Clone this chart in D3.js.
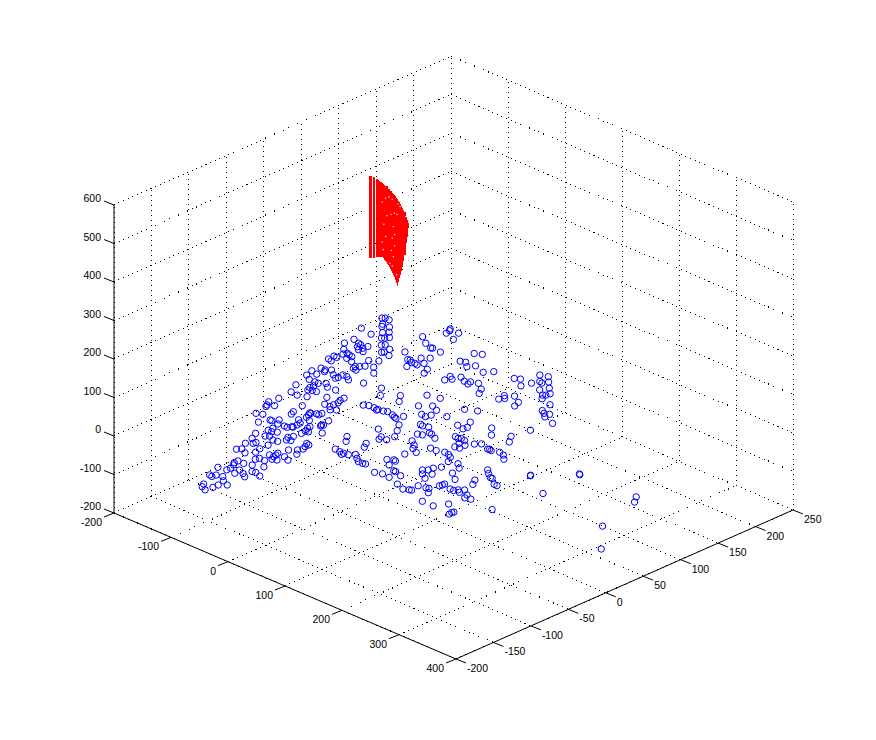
<!DOCTYPE html>
<html>
<head>
<meta charset="utf-8">
<style>html,body{margin:0;padding:0;background:#fff}svg{display:block}text{font-family:"Liberation Sans",Arial,sans-serif;font-size:10.5px;fill:#000}</style>
<script src="https://cdnjs.cloudflare.com/ajax/libs/d3/7.8.5/d3.min.js"></script>
</head>
<body>
<svg id="chart" width="876" height="740"></svg>
<script>
const xTicks = [-200,-100,0,100,200,300,400];
const yTicks = [-200,-150,-100,-50,0,50,100,150,200,250];
const zTicks = [-200,-100,0,100,200,300,400,500,600];

// Blue scatter (depth taken on the z = 0 level)
const pointZ = 0;
const pointX = [-196,-199,-189,-186,-182,-174,-169,-164,-159,-156,-153,-142,-145,-129,-130,-128,-117,-197,-176,-181,-182,-169,-164,-163,-154,-155,-156,-148,-170,-161,-159,-154,-160,-165,-164,-158,-149,-148,-138,-115,-125,-107,-95,-117,-121,-125,-117,-123,-152,-145,-139,-155,-144,-151,-140,-142,-128,-119,-119,-112,-104,-118,-84,-130,-124,-123,-123,-120,-115,-117,-108,-95,-109,-141,-131,-119,-107,-88,-58,-44,-26,-15,-71,-70,-67,-67,-67,-76,-54,-60,-129,-131,-126,-124,-118,-93,-89,-86,-72,-70,-69,-66,-64,-60,-60,-39,-111,-119,-99,-93,-85,-90,-78,-68,-60,-59,-60,-68,-63,-58,-57,-43,-44,-35,-39,-37,-35,-36,-20,-74,-74,-68,-62,-79,-72,-65,-61,-50,-43,-39,-42,-38,-33,-38,-44,-60,-61,-68,-60,-64,-49,-44,-41,-16,-13,-8,-8,-5,-8,0,-19,-17,-16,-23,-16,-25,-27,-12,-6,4,-6,-18,-29,-39,-39,-35,-31,-31,-17,-19,-9,-1,-5,0,11,-44,-36,-31,-30,-21,-12,0,-8,-8,-10,-23,-19,-4,
-40,-34,-25,-18,-18,-10,-5,6,12,16,19,32,42,52,22,40,43,51,9,18,40,46,24,33,40,40,47,53,62,70,77,81,106,116,129,91,104,98,102,120,123,136,150,165,96,172,-110,-92,-79,
-125,-111,-113,-116,-100,-92,-109,-95,-93,-78,-83,-75,-70,-55,-50,-78,-73,-83,-89,-45,-36,-42,-35,-25,-19,1,9,-18,-20,-13,-9,2,11,9,19,33,40,41,48,62,66,57,68,70,75,79,87,92,100,103,104,107,126,131,138,145,146,166,69,67,73,77,93,97,-3,15,11,24,36,31,39,41,59,74,58,90,85,98,97,121,135,155,165,160,50,55,63,67,73,75,80,91,106,112,115,122,123,132,126,133,138,144,107,117,76,86,92,103,128,136,143,150,160,162,166,177,186,195,163,173,155,150,149,144,152,161,163,177,192,202,210,220,223,237,242,211,218,251,252,299,172,175,183,187,195,191,192,192,207,213,222,216,222,234,238,246,207,226,236,257,256,257,286,292,294,389,398,418,463];
const pointY = [159,157,159,148,144,148,135,140,126,128,132,118,115,114,104,106,104,128,125,106,94,103,102,97,104,98,93,93,84,76,80,79,67,67,59,58,72,78,70,89,83,76,67,72,68,65,60,61,40,40,44,30,28,20,15,37,38,34,44,44,40,37,45,15,15,8,3,-2,0,20,15,16,1,-2,-16,-17,-13,-1,49,37,50,40,9,3,-2,-8,-13,-13,-14,-18,-34,-46,-52,-55,-48,-30,-45,-50,-36,-36,-40,-45,-33,-29,-33,-36,-69,-72,-84,-73,-67,-73,-74,-54,-58,-63,-69,-73,-73,-69,-48,-61,-57,-66,-67,-47,-46,-49,-59,-84,-90,-90,-87,-103,-113,-101,-98,-102,-101,-83,-88,-93,-91,-73,-113,-117,-120,-125,-136,-140,-140,-124,-132,-107,-85,-86,-91,-96,-101,-108,-119,-123,-127,-127,-139,-139,-143,-132,-130,-123,-120,-154,-157,-157,-162,-166,-173,-178,-178,-170,-173,-177,-164,-163,-166,-180,-197,-198,-193,-191,-197,-201,-207,-214,-223,-215,-220,-149,
11,14,14,12,14,15,17,15,13,12,20,4,-6,-17,-16,-26,-31,-27,-48,-56,-46,-53,-75,-76,-79,-76,-75,-70,-75,-79,-79,-78,-85,-82,-83,-57,-64,-53,-54,-70,-70,-73,-88,-92,-37,-89,120,110,99,
155,176,182,185,184,171,147,143,144,143,121,127,115,108,100,109,108,108,111,163,167,142,144,138,145,140,148,103,112,109,118,114,112,117,120,113,105,151,154,144,155,173,176,163,162,168,150,159,144,146,151,138,134,120,117,119,112,107,109,118,114,124,117,109,68,72,46,55,51,35,34,40,71,77,48,55,42,45,40,60,49,60,50,82,19,18,20,2,4,12,11,7,23,22,24,23,15,16,7,8,24,29,-11,-11,-12,-17,-23,-27,-8,-9,-12,-20,25,26,25,28,26,20,-17,-23,-33,-40,-46,-50,-56,-50,-61,-35,-43,-7,-12,-17,-17,-25,-25,-31,-39,13,12,-7,-77,-88,-75,-74,-81,-63,-60,-57,-61,-61,-60,-57,-53,-59,-65,-63,-98,-98,-85,-100,-96,-94,-65,47,46,49,40,-18,-54];

// Red surface: one vertical line per column
const surfaceX = [-186,-185.1,-184.2,-182.4,-181.5,-179.7,-178.9,-178,-177.1,-176.2,-175.3,-174.4,-173.5,-172.6,-171.7,-170.8,-169.9,-169,-168.1,-167.2,-166.4,-165.5,-164.6,-163.7,-162.8,-161.9,-161,-160.1,-159.2,-158.3,-157.4,-156.5,-155.6,-154.7,-153.9,-153,-152.1,-151.2];
const surfaceY = [131,131.7,132.3,133.6,134.3,135.6,136.2,136.9,137.6,138.2,138.9,139.5,140.2,140.8,141.5,142.2,142.8,143.5,144.1,144.8,145.4,146.1,146.7,147.4,148.1,148.7,149.4,150,150.7,151.3,152,152.6,153.3,154,154.6,155.3,155.9,156.6];
const surfaceTop = [400,400,400,397,397,392,392,390,387,384,384,382,379,377,374,374,371,366,364,361,358,356,353,351,348,343,340,335,332,327,322,317,312,306,301,293,286,278];
const surfaceBottom = [187,187,187,187,187,190,190,190,190,190,190,190,187,182,179,177,171,169,164,158,153,148,143,138,130,122,114,125,135,143,153,164,179,195,210,226,242,265];

// Small holes left in the red surface
const holeX = [-172,-169,-166,-175,-161,-159,-156,-154,-167,-164,-162,-171,-173.5,-165,-164,-172,-175,-166,-164,-174,-167,-165,-168,-166,-162];
const holeY = [141.3,143.5,145.6,139,149.6,150.7,152.8,154.6,144.8,147,148.9,142.3,140.2,146.3,147.4,141.5,139,145.6,147.4,139.7,145.2,146.3,144.1,145.6,148.5];
const holeZ = [342,345,339,332,327,320,312,294,300,303,300,296,274,268,247,242,228,238,218,208,206,190,173,166,143];

const xMin = -200, xMax = 400, yMin = -200, yMax = 250, zMin = -200, zMax = 600;
const originH = 114, originV = 513;

// Oblique 3-D view: each data axis contributes through its own scales
const xH = d3.scaleLinear().domain([xMin,xMax]).range([0,342]);
const xV = d3.scaleLinear().domain([xMin,xMax]).range([0,146]);
const yH = d3.scaleLinear().domain([yMin,yMax]).range([0,337]);
const yV = d3.scaleLinear().domain([yMin,yMax]).range([0,-149]);
const zV = d3.scaleLinear().domain([zMin,zMax]).range([0,-308]);
const project = (x,y,z) => [originH + xH(x) + yH(y), originV + xV(x) + yV(y) + zV(z)];

const svg = d3.select("#chart");
const gGrid = svg.append("g").attr("stroke","#000").attr("stroke-width",1).attr("stroke-dasharray","1 4").attr("shape-rendering","crispEdges");
const seg = (g,a,b) => g.append("line").attr("x1",a[0]).attr("y1",a[1]).attr("x2",b[0]).attr("y2",b[1]);

xTicks.forEach(x => {
  seg(gGrid, project(x,yMin,zMin), project(x,yMax,zMin));
  seg(gGrid, project(x,yMax,zMin), project(x,yMax,zMax));
});
yTicks.forEach(y => {
  seg(gGrid, project(xMin,y,zMin), project(xMax,y,zMin));
  seg(gGrid, project(xMin,y,zMin), project(xMin,y,zMax));
});
zTicks.forEach(z => {
  seg(gGrid, project(xMin,yMin,z), project(xMin,yMax,z));
  seg(gGrid, project(xMin,yMax,z), project(xMax,yMax,z));
});

const gAxis = svg.append("g").attr("stroke","#000").attr("stroke-width",1);
seg(gAxis, project(xMin,yMin,zMin), project(xMax,yMin,zMin));
seg(gAxis, project(xMax,yMin,zMin), project(xMax,yMax,zMin));
seg(gAxis, project(xMin,yMin,zMin), project(xMin,yMin,zMax));

xTicks.forEach(x => {
  const p = project(x,yMin,zMin);
  seg(gAxis, p, [p[0]-10,p[1]+4]);
  svg.append("text").attr("x",p[0]-12).attr("y",p[1]+13).attr("text-anchor","end").text(x);
});
yTicks.forEach(y => {
  const p = project(xMax,y,zMin);
  seg(gAxis, p, [p[0]+10,p[1]+4]);
  svg.append("text").attr("x",p[0]+11).attr("y",p[1]+13).attr("text-anchor","start").text(y);
});
zTicks.forEach(z => {
  const p = project(xMin,yMin,z);
  seg(gAxis, p, [p[0]-10,p[1]-4]);
  svg.append("text").attr("x",p[0]-13).attr("y",p[1]-3).attr("text-anchor","end").text(z);
});

svg.append("g").attr("stroke","#ff0000").attr("stroke-width",1.2).attr("shape-rendering","crispEdges")
  .selectAll("line").data(d3.range(surfaceX.length)).join("line")
  .attr("x1",i=>project(surfaceX[i],surfaceY[i],surfaceTop[i])[0])
  .attr("y1",i=>project(surfaceX[i],surfaceY[i],surfaceTop[i])[1])
  .attr("x2",i=>project(surfaceX[i],surfaceY[i],surfaceBottom[i])[0])
  .attr("y2",i=>project(surfaceX[i],surfaceY[i],surfaceBottom[i])[1]);

svg.append("g").attr("fill","#fff")
  .selectAll("circle").data(d3.range(holeX.length)).join("circle")
  .attr("cx",i=>project(holeX[i],holeY[i],holeZ[i])[0])
  .attr("cy",i=>project(holeX[i],holeY[i],holeZ[i])[1])
  .attr("r",0.7);

svg.append("g").attr("fill","none").attr("stroke","#0000ff").attr("stroke-width",1)
  .selectAll("circle").data(d3.range(pointX.length)).join("circle")
  .attr("cx",i=>project(pointX[i],pointY[i],pointZ)[0])
  .attr("cy",i=>project(pointX[i],pointY[i],pointZ)[1])
  .attr("r",3.2);
</script>
</body>
</html>
